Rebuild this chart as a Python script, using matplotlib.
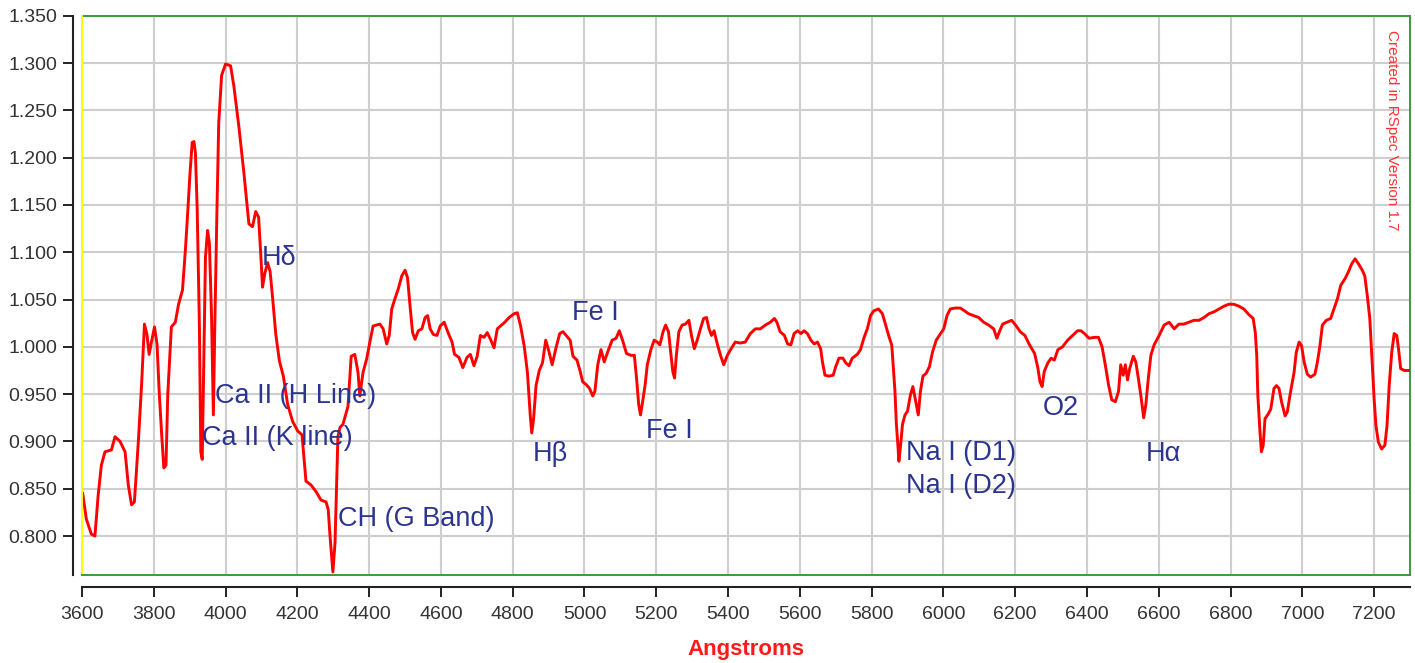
import numpy as np
import matplotlib
matplotlib.use("Agg")
import matplotlib.pyplot as plt
from matplotlib.lines import Line2D

plt.rcParams['font.family'] = ['Liberation Sans', 'DejaVu Sans']

# Wavelength (Angstroms) and relative intensity of the spectrum
wavelength = [
  3602, 3612, 3626, 3636, 3645, 3654, 3664, 3682, 3692, 3706, 3720, 3729, 3738, 3746, 3757,
  3766, 3774, 3781, 3787, 3794, 3802, 3809, 3815, 3822, 3828, 3834, 3839, 3849, 3860, 3869,
  3880, 3888, 3895, 3901, 3907, 3912, 3916, 3921, 3927, 3931, 3935, 3938, 3944, 3950, 3955,
  3961, 3966, 3970, 3976, 3981, 3989, 4000, 4014, 4023, 4037, 4051, 4065, 4075, 4084, 4092,
  4098, 4103, 4109, 4117, 4124, 4131, 4140, 4150, 4161, 4173, 4187, 4201, 4213, 4224, 4238,
  4252, 4266, 4280, 4286, 4291, 4299, 4305, 4310, 4313, 4319, 4327, 4341, 4350, 4360, 4369,
  4374, 4383, 4393, 4402, 4411, 4430, 4439, 4449, 4456, 4463, 4472, 4481, 4491, 4500, 4507,
  4514, 4521, 4528, 4537, 4547, 4556, 4563, 4570, 4579, 4589, 4598, 4609, 4622, 4631, 4638,
  4650, 4661, 4673, 4682, 4692, 4701, 4710, 4720, 4729, 4738, 4748, 4757, 4766, 4778, 4790,
  4804, 4813, 4822, 4832, 4841, 4849, 4853, 4858, 4865, 4874, 4883, 4892, 4901, 4910, 4920,
  4931, 4940, 4949, 4960, 4968, 4979, 4988, 4995, 5005, 5014, 5023, 5029, 5037, 5046, 5055,
  5065, 5077, 5088, 5097, 5106, 5117, 5129, 5139, 5145, 5151, 5156, 5162, 5169, 5175, 5185,
  5194, 5203, 5210, 5219, 5226, 5234, 5240, 5246, 5251, 5256, 5263, 5272, 5281, 5291, 5298,
  5306, 5314, 5323, 5332, 5340, 5347, 5354, 5361, 5370, 5379, 5388, 5398, 5407, 5420, 5434,
  5448, 5462, 5476, 5490, 5504, 5518, 5529, 5536, 5545, 5557, 5566, 5575, 5584, 5594, 5603,
  5612, 5621, 5631, 5640, 5649, 5658, 5663, 5670, 5681, 5693, 5700, 5709, 5720, 5728, 5737,
  5746, 5760, 5769, 5779, 5788, 5797, 5806, 5819, 5830, 5839, 5849, 5856, 5860, 5865, 5869,
  5873, 5876, 5881, 5886, 5893, 5900, 5908, 5915, 5923, 5930, 5936, 5943, 5952, 5961, 5970,
  5980, 5992, 6001, 6010, 6019, 6033, 6047, 6059, 6070, 6084, 6098, 6112, 6126, 6140, 6149,
  6156, 6165, 6177, 6190, 6201, 6214, 6227, 6240, 6254, 6263, 6269, 6275, 6281, 6291, 6300,
  6309, 6319, 6332, 6346, 6360, 6374, 6383, 6393, 6406, 6420, 6432, 6442, 6451, 6460, 6469,
  6479, 6488, 6494, 6501, 6507, 6513, 6519, 6529, 6536, 6543, 6551, 6558, 6564, 6571, 6578,
  6587, 6601, 6615, 6629, 6643, 6656, 6670, 6684, 6698, 6712, 6726, 6740, 6754, 6768, 6782,
  6795, 6809, 6823, 6837, 6851, 6863, 6869, 6873, 6876, 6882, 6886, 6891, 6896, 6905, 6912,
  6921, 6928, 6935, 6942, 6952, 6958, 6967, 6977, 6983, 6991, 6998, 7005, 7014, 7023, 7035,
  7042, 7049, 7056, 7067, 7079, 7088, 7098, 7107, 7119, 7128, 7138, 7147, 7156, 7167, 7174,
  7181, 7188, 7195, 7200, 7205, 7212, 7221, 7230, 7236, 7242, 7249, 7256, 7263, 7268, 7274,
  7284, 7300]

intensity = [
  0.845, 0.818, 0.802, 0.800, 0.843, 0.875, 0.889, 0.891, 0.905, 0.900, 0.889, 0.854, 0.833, 0.836, 0.900,
  0.960, 1.024, 1.013, 0.992, 1.006, 1.021, 1.003, 0.953, 0.907, 0.872, 0.875, 0.950, 1.021, 1.026, 1.045,
  1.060, 1.102, 1.145, 1.184, 1.216, 1.217, 1.205, 1.145, 1.024, 0.889, 0.881, 0.953, 1.095, 1.123, 1.109,
  1.031, 0.928, 1.021, 1.145, 1.237, 1.287, 1.299, 1.297, 1.276, 1.233, 1.184, 1.130, 1.127, 1.143, 1.137,
  1.098, 1.063, 1.077, 1.089, 1.080, 1.052, 1.013, 0.985, 0.969, 0.939, 0.921, 0.911, 0.907, 0.858, 0.854,
  0.847, 0.838, 0.836, 0.828, 0.800, 0.762, 0.793, 0.862, 0.905, 0.915, 0.918, 0.937, 0.990, 0.992, 0.973,
  0.948, 0.973, 0.987, 1.005, 1.022, 1.024, 1.019, 1.003, 1.012, 1.040, 1.051, 1.061, 1.075, 1.081, 1.073,
  1.043, 1.015, 1.008, 1.017, 1.019, 1.031, 1.033, 1.019, 1.013, 1.012, 1.022, 1.026, 1.013, 1.005, 0.992,
  0.989, 0.978, 0.989, 0.992, 0.980, 0.990, 1.012, 1.010, 1.015, 1.008, 0.999, 1.019, 1.022, 1.026, 1.031,
  1.035, 1.036, 1.022, 1.001, 0.973, 0.927, 0.909, 0.923, 0.959, 0.975, 0.983, 1.007, 0.995, 0.981, 0.998,
  1.014, 1.016, 1.012, 1.007, 0.990, 0.986, 0.974, 0.963, 0.960, 0.956, 0.948, 0.953, 0.981, 0.997, 0.984,
  0.995, 1.007, 1.009, 1.017, 1.007, 0.993, 0.991, 0.991, 0.967, 0.939, 0.928, 0.942, 0.960, 0.981, 0.997,
  1.007, 1.005, 1.002, 1.016, 1.023, 1.016, 0.995, 0.974, 0.967, 0.991, 1.016, 1.023, 1.024, 1.028, 1.012,
  0.998, 1.007, 1.019, 1.030, 1.031, 1.019, 1.012, 1.017, 1.003, 0.991, 0.981, 0.991, 0.997, 1.005, 1.004,
  1.005, 1.014, 1.019, 1.019, 1.023, 1.026, 1.030, 1.026, 1.016, 1.012, 1.003, 1.002, 1.014, 1.017, 1.014,
  1.017, 1.014, 1.007, 1.003, 1.005, 0.998, 0.984, 0.970, 0.969, 0.970, 0.979, 0.988, 0.988, 0.983, 0.980,
  0.988, 0.992, 0.997, 1.010, 1.019, 1.033, 1.038, 1.040, 1.035, 1.023, 1.010, 1.002, 0.981, 0.953, 0.918,
  0.897, 0.879, 0.897, 0.918, 0.928, 0.932, 0.949, 0.958, 0.942, 0.928, 0.953, 0.969, 0.972, 0.979, 0.995,
  1.007, 1.014, 1.019, 1.033, 1.040, 1.041, 1.041, 1.038, 1.035, 1.033, 1.031, 1.026, 1.023, 1.019, 1.009,
  1.016, 1.024, 1.026, 1.028, 1.023, 1.016, 1.012, 1.002, 0.993, 0.978, 0.963, 0.958, 0.974, 0.983, 0.988,
  0.986, 0.997, 1.000, 1.007, 1.012, 1.017, 1.017, 1.014, 1.009, 1.010, 1.010, 1.000, 0.981, 0.960, 0.944,
  0.942, 0.953, 0.981, 0.970, 0.981, 0.965, 0.977, 0.990, 0.984, 0.967, 0.946, 0.925, 0.939, 0.967, 0.991,
  1.002, 1.012, 1.023, 1.026, 1.019, 1.024, 1.024, 1.026, 1.028, 1.028, 1.031, 1.035, 1.037, 1.040, 1.043,
  1.045, 1.045, 1.043, 1.040, 1.034, 1.030, 1.015, 0.991, 0.949, 0.910, 0.889, 0.896, 0.924, 0.929, 0.934,
  0.956, 0.959, 0.956, 0.942, 0.927, 0.931, 0.952, 0.973, 0.994, 1.005, 1.001, 0.984, 0.971, 0.968, 0.971,
  0.984, 1.001, 1.023, 1.028, 1.030, 1.040, 1.051, 1.065, 1.072, 1.079, 1.088, 1.093, 1.088, 1.081, 1.075,
  1.054, 1.030, 0.980, 0.945, 0.917, 0.899, 0.892, 0.896, 0.917, 0.959, 0.994, 1.014, 1.012, 0.998, 0.977,
  0.975, 0.975]

# Spectral line labels: text, wavelength of left edge, baseline intensity
line_names = ["H\u03b4", "Fe I", "Ca II (H Line)", "Ca II (K line)", "CH (G Band)", "H\u03b2",
              "Fe I", "Na I (D1)", "Na I (D2)", "O2", "H\u03b1"]
line_wave = [4101, 4964, 3970, 3934, 4314, 4857, 5171, 5897, 5895, 6277, 6564]
line_level = [1.0865, 1.0283, 0.9406, 0.8962, 0.8106, 0.8793, 0.9041, 0.8803, 0.8454, 0.9279, 0.8793]

x_ticks = list(range(3600, 7201, 200))
y_ticks = np.arange(0.80, 1.351, 0.05)

fig = plt.figure(figsize = (14.15, 6.63), dpi = 100)
ax = fig.add_axes([0.05795, 0.13273, 0.93852, 0.84359])

ax.plot(wavelength, intensity, color = '#ff0000', linewidth = 2.1, zorder = 3)

ax.set_xlim(3600, 7300)
ax.set_ylim(0.7588, 1.35)
ax.set_xticks(x_ticks)
ax.set_xticklabels([str(t) for t in x_ticks])
ax.set_yticks(y_ticks)
ax.set_yticklabels(['%.3f' % t for t in y_ticks])

# Grid and frame
ax.set_axisbelow(True)
ax.grid(True, color = '#cecece', linewidth = 1.5)
ax.spines['top'].set_color('#3a9a3a')
ax.spines['right'].set_color('#3a9a3a')
ax.spines['top'].set_linewidth(1.4)
ax.spines['right'].set_linewidth(1.4)
ax.add_line(Line2D([0, 0], [0, 1], transform = ax.transAxes, color = '#ffff00',
                   linewidth = 1.4, clip_on = False, zorder = 4))
ax.add_line(Line2D([0, 1], [0, 0], transform = ax.transAxes, color = '#3a9a3a',
                   linewidth = 1.4, clip_on = False, zorder = 4))

# Axis lines sit outside of the plot frame
ax.spines['left'].set_position(('outward', 6.3))
ax.spines['bottom'].set_position(('outward', 8.4))
for side in ['left', 'bottom']:
  ax.spines[side].set_color('#222222')
  ax.spines[side].set_linewidth(1.5)
ax.tick_params(axis = 'both', direction = 'out', length = 7.2, width = 1.4,
               color = '#222222', labelcolor = '#333333', labelsize = 14)
ax.tick_params(axis = 'y', pad = 4.5)
ax.tick_params(axis = 'x', pad = 6.5)

ax.set_xlabel('Angstroms', color = '#ff1a1a', fontsize = 16, fontweight = 'bold', labelpad = 12)

# Line identifications
for name, w, level in zip(line_names, line_wave, line_level):
  ax.text(w, level, name, color = '#2b3590', fontsize = 19.5, ha = 'left', va = 'baseline', zorder = 5)

ax.text(0.9864, 0.974, 'Created in RSpec Version 1.7', transform = ax.transAxes, rotation = 270,
        color = '#ff3333', fontsize = 11, ha = 'center', va = 'top')

fig.savefig('out.png', dpi = 100, facecolor = 'white')
